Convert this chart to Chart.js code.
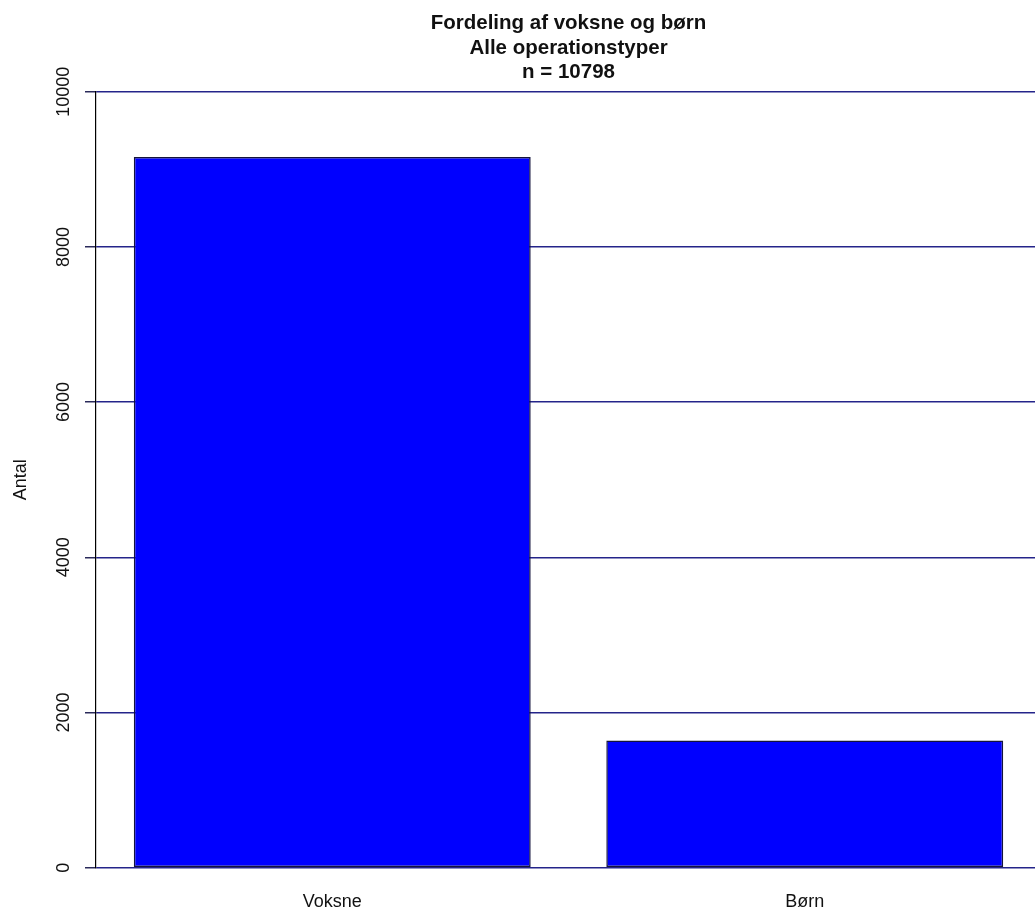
<!DOCTYPE html>
<html>
<head>
<meta charset="utf-8">
<title>Fordeling af voksne og børn</title>
<script src="https://cdn.jsdelivr.net/npm/chart.js@4/dist/chart.umd.min.js"></script>
<style>
    html, body { margin: 0; padding: 0; background: #ffffff; overflow: hidden; }
    #wrap { width: 1041px; height: 912px; }
</style>
</head>
<body>
<div id="wrap"><canvas id="barChart" width="1041" height="912"></canvas></div>
<script>
// Data
const categories = ['Voksne', 'Børn'];
const counts = [9160, 1638];
const titleLines = ['Fordeling af voksne og børn', 'Alle operationstyper', 'n = 10798'];
const yTicks = [0, 2000, 4000, 6000, 8000, 10000];

const FONT = '"Liberation Sans", Arial, sans-serif';

// Rotated y tick labels, the way R draws them
const yLabelPlugin = {
    id: 'yLabels',
    afterDraw(chart) {
        const ctx = chart.ctx;
        const yScale = chart.scales.y;
        ctx.save();
        ctx.fillStyle = '#111111';
        ctx.font = '18px ' + FONT;
        ctx.textAlign = 'center';
        ctx.textBaseline = 'middle';
        yTicks.forEach(v => {
            const y = yScale.getPixelForValue(v);
            ctx.save();
            ctx.translate(64.5, y);
            ctx.rotate(-Math.PI / 2);
            ctx.fillText(String(v), 0, 0);
            ctx.restore();
        });
        ctx.restore();
    }
};

const chart = new Chart(document.getElementById('barChart').getContext('2d'), {
    type: 'bar',
    data: {
        labels: categories,
        datasets: [{
            data: counts,
            backgroundColor: '#0000ff',
            borderColor: '#14143c',
            borderWidth: 1.5,
            borderSkipped: false,
            categoryPercentage: 1.0,
            barPercentage: 0.84
        }]
    },
    options: {
        responsive: false,
        animation: false,
        devicePixelRatio: 1,
        layout: { padding: 0 },
        plugins: {
            legend: { display: false },
            tooltip: { enabled: false },
            title: {
                display: true,
                fullSize: false,
                text: titleLines,
                color: '#111111',
                font: { family: FONT, size: 20.5, weight: 'bold', lineHeight: 1.2 },
                padding: { top: 11, bottom: 6.9 }
            }
        },
        scales: {
            x: {
                grid: { display: false, drawTicks: false },
                border: { display: false },
                ticks: {
                    color: '#111111',
                    font: { family: FONT, size: 18 },
                    padding: 24,
                    maxRotation: 0
                },
                afterFit(scale) { scale.height = 44.3; }
            },
            y: {
                min: 0,
                max: 10000,
                afterBuildTicks(scale) {
                    scale.ticks = yTicks.map(v => ({ value: v }));
                },
                grid: {
                    color: '#24248a',
                    lineWidth: 1.5,
                    drawTicks: true,
                    tickLength: 11,
                    tickColor: '#2a2a5a'
                },
                border: { display: true, color: '#000000', width: 1.2 },
                ticks: { display: false },
                title: {
                    display: true,
                    text: 'Antal',
                    color: '#111111',
                    font: { family: FONT, size: 18, lineHeight: 1.2 },
                    padding: { top: 10.2, bottom: 0 }
                },
                afterFit(scale) { scale.width = 96; }
            }
        }
    },
    plugins: [yLabelPlugin]
});
</script>
</body>
</html>
